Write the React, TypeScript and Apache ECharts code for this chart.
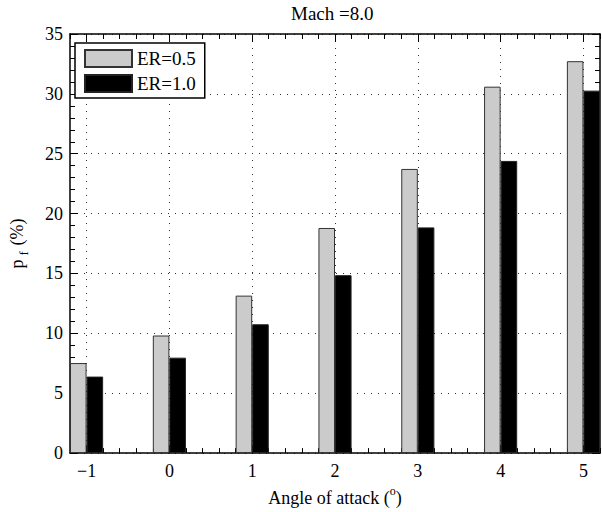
import React, { useEffect, useRef } from 'react';
import * as echarts from 'echarts';

// ---- data ----
const angles = [-1, 0, 1, 2, 3, 4, 5];
const er05 = [7.52, 9.82, 13.15, 18.8, 23.73, 30.6, 32.73];
const er10 = [6.39, 7.97, 10.76, 14.86, 18.85, 24.4, 30.27];
const seriesNames = ['ER=0.5', 'ER=1.0'];
const xTicks = [-1, 0, 1, 2, 3, 4, 5];
const yTicks = [0, 5, 10, 15, 20, 25, 30, 35];
const titleText = 'Mach =8.0';

const FONT = '"Liberation Serif", "Times New Roman", serif';

const fmtX = (v: number) => {
  const r = Math.round(v);
  if (Math.abs(v - r) > 1e-6 || !xTicks.includes(r)) return '';
  return r < 0 ? '\u2212' + Math.abs(r) : String(r);
};

export default function App() {
  const ref = useRef<HTMLDivElement>(null);
  useEffect(() => {
    if (!ref.current) return;
    const chart = echarts.init(ref.current, undefined, { renderer: 'svg' });
    const axisLine = { show: true, onZero: false, lineStyle: { color: '#000', width: 1.5 } };
    const dotted = { show: true, lineStyle: { color: '#333', width: 1, type: [1, 6] as any } };
    const xBase = { type: 'value' as const, min: -1.2, max: 5.2 };
    const option: any = {
      animation: false,
      backgroundColor: '#fff',
      title: {
        text: titleText,
        left: 291,
        top: 4,
        padding: 0,
        textStyle: { fontFamily: FONT, fontSize: 19, fontWeight: 'normal', color: '#000' },
      },
      legend: {
        data: seriesNames,
        orient: 'vertical',
        left: 75,
        top: 43,
        itemWidth: 47,
        itemHeight: 17,
        itemGap: 6,
        padding: [6, 9, 5, 9],
        borderColor: '#000',
        borderWidth: 1.5,
        backgroundColor: '#fff',
        icon: 'rect',
        textStyle: { fontFamily: FONT, fontSize: 19, lineHeight: 17, color: '#000' },
      },
      grid: { left: 67, top: 34, width: 533, height: 422, containLabel: false },
      xAxis: [
        {
          ...xBase,
          position: 'bottom',
          interval: 0.2,
          axisLine,
          axisTick: { show: true, inside: true, length: 5, lineStyle: { color: '#000' } },
          axisLabel: { show: false },
          splitLine: { show: false },
        },
        {
          ...xBase,
          position: 'bottom',
          axisLine: { show: false, onZero: false },
          axisTick: { show: true, inside: true, length: 8, customValues: xTicks, lineStyle: { color: '#000' } },
          axisLabel: {
            show: true,
            customValues: xTicks,
            formatter: fmtX,
            margin: 9,
            fontFamily: FONT,
            fontSize: 18,
            color: '#000',
          },
          splitLine: dotted,
          name: '{t|Angle of attack (}{s|o}{t|)}',
          nameLocation: 'middle',
          nameGap: 28,
          nameTextStyle: {
            rich: {
              t: { fontFamily: FONT, fontSize: 18, color: '#000', lineHeight: 22, verticalAlign: 'bottom' },
              s: { fontFamily: FONT, fontSize: 12, color: '#000', lineHeight: 12, verticalAlign: 'top' },
            },
          },
        },
        {
          ...xBase,
          position: 'top',
          interval: 0.2,
          axisLine,
          axisTick: { show: true, inside: true, length: 5, lineStyle: { color: '#000' } },
          axisLabel: { show: false },
          splitLine: { show: false },
        },
        {
          ...xBase,
          position: 'top',
          axisLine: { show: false, onZero: false },
          axisTick: { show: true, inside: true, length: 8, customValues: xTicks, lineStyle: { color: '#000' } },
          axisLabel: { show: false },
          splitLine: { show: false },
        },
      ],
      yAxis: [
        {
          type: 'value',
          position: 'left',
          min: 0,
          max: 35,
          interval: 5,
          axisLine,
          axisTick: { show: true, inside: true, length: 8, lineStyle: { color: '#000' } },
          minorTick: { show: true, splitNumber: 5, length: 5, lineStyle: { color: '#000' } },
          axisLabel: {
            margin: 7,
            fontFamily: FONT,
            fontSize: 18,
            color: '#000',
            formatter: (v: number) => (yTicks.includes(v) ? String(v) : ''),
          },
          splitLine: dotted,
          name: '{p|p}{f|f}{p| (%)}',
          nameLocation: 'middle',
          nameRotate: 90,
          nameGap: 40,
          nameTextStyle: {
            rich: {
              p: { fontFamily: FONT, fontSize: 18, color: '#000', lineHeight: 26, verticalAlign: 'middle' },
              f: { fontFamily: FONT, fontSize: 13, color: '#000', lineHeight: 12, verticalAlign: 'bottom', padding: [0, 1, 0, 4] },
            },
          },
        },
        {
          type: 'value',
          position: 'right',
          min: 0,
          max: 35,
          interval: 5,
          axisLine,
          axisTick: { show: true, inside: true, length: 8, lineStyle: { color: '#000' } },
          minorTick: { show: true, splitNumber: 5, length: 5, lineStyle: { color: '#000' } },
          axisLabel: { show: false },
          splitLine: { show: false },
        },
      ],
      series: [
        {
          name: seriesNames[0],
          type: 'bar',
          xAxisIndex: 0,
          yAxisIndex: 0,
          barWidth: '20%',
          barGap: '0%',
          itemStyle: { color: '#cbcbcb', borderColor: '#333', borderWidth: 1 },
          data: angles.map((a, i) => [a, er05[i]]),
        },
        {
          name: seriesNames[1],
          type: 'bar',
          xAxisIndex: 0,
          yAxisIndex: 0,
          barWidth: '20%',
          barGap: '0%',
          itemStyle: { color: '#000', borderColor: '#222', borderWidth: 1 },
          data: angles.map((a, i) => [a, er10[i]]),
        },
      ],
    };
    chart.setOption(option);
    return () => chart.dispose();
  }, []);
  return (
    <div
      ref={ref}
      style={{ position: 'absolute', left: 0, top: 0, width: 602, height: 512, background: '#fff' }}
    />
  );
}
